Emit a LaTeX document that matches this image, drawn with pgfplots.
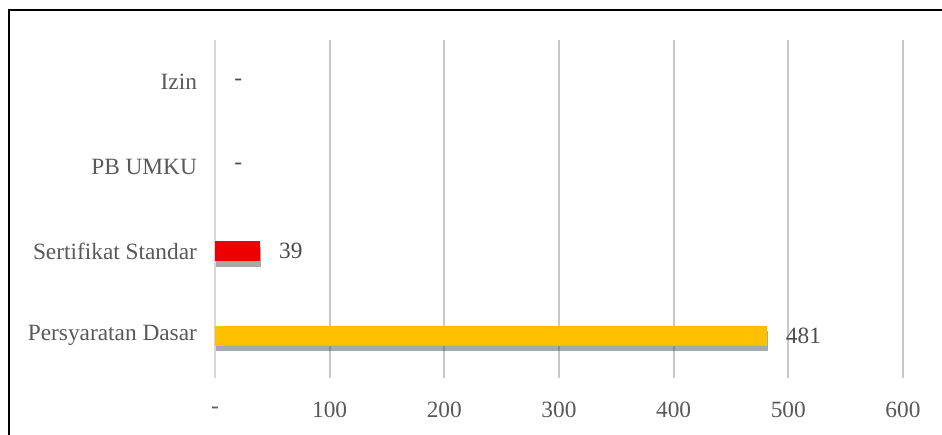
\documentclass[border=0pt]{standalone}
\usepackage{pgfplots}
\pgfplotsset{compat=1.18}
\usepackage{fontspec}
\setmainfont{Liberation Serif}
\usetikzlibrary{shadows}
\definecolor{txt}{HTML}{595959}
\definecolor{gold}{HTML}{FFC000}
\definecolor{barred}{HTML}{EE0000}
\definecolor{gridc}{HTML}{C8C8C8}
\definecolor{zeroaxis}{HTML}{D9D9D9}
\tikzset{barshadow/.style={drop shadow={shadow xshift=1pt, shadow yshift=-4pt, opacity=0.45, fill=black!75}}}
\begin{document}
\begin{tikzpicture}
  % page = 942x435 px at 0.75pt per px, origin at the plot area's lower left
  \useasboundingbox (-161.25pt,-42.75pt) rectangle (545.25pt,283.5pt);
  \draw[line width=1.5pt] (-154.5pt,-60pt) rectangle (560pt,276pt);
  \begin{axis}[
    at={(0,0)}, anchor=south west,
    scale only axis, width=516pt, height=253.5pt,
    font=\fontsize{17.5}{20}\selectfont,
    xmin=0, xmax=600, ymin=-0.5, ymax=3.5,
    xbar, bar width=15pt, bar shift=0pt,
    axis line style={draw=none},
    major tick length=0pt,
    xtick={100,200,300,400,500,600},
    xticklabels={100,200,300,400,500,600},
    extra x ticks={0}, extra x tick labels={-},
    extra tick style={grid style={zeroaxis, line width=2.2pt}},
    xmajorgrids, grid style={gridc, line width=1.3pt},
    x tick label style={anchor=center, yshift=-24pt, text=txt},
    ytick={0,1,2,3},
    yticklabels={Persyaratan Dasar, Sertifikat Standar, PB UMKU, Izin},
    y tick label style={anchor=east, xshift=-10pt, text=txt},
    clip=false,
  ]
    \addplot[fill=gold, draw=none, barshadow] coordinates {(481,0)};
    \addplot[fill=barred, draw=none, barshadow] coordinates {(39,1)};
    \addplot[draw=none, fill=none, point meta=explicit symbolic,
      nodes near coords,
      every node near coord/.append style={anchor=west, xshift=11pt, text=txt!85!black}]
      coordinates {(481,0)[481] (39,1)[39] (0,2)[-] (0,3)[-]};
  \end{axis}
\end{tikzpicture}
\end{document}
